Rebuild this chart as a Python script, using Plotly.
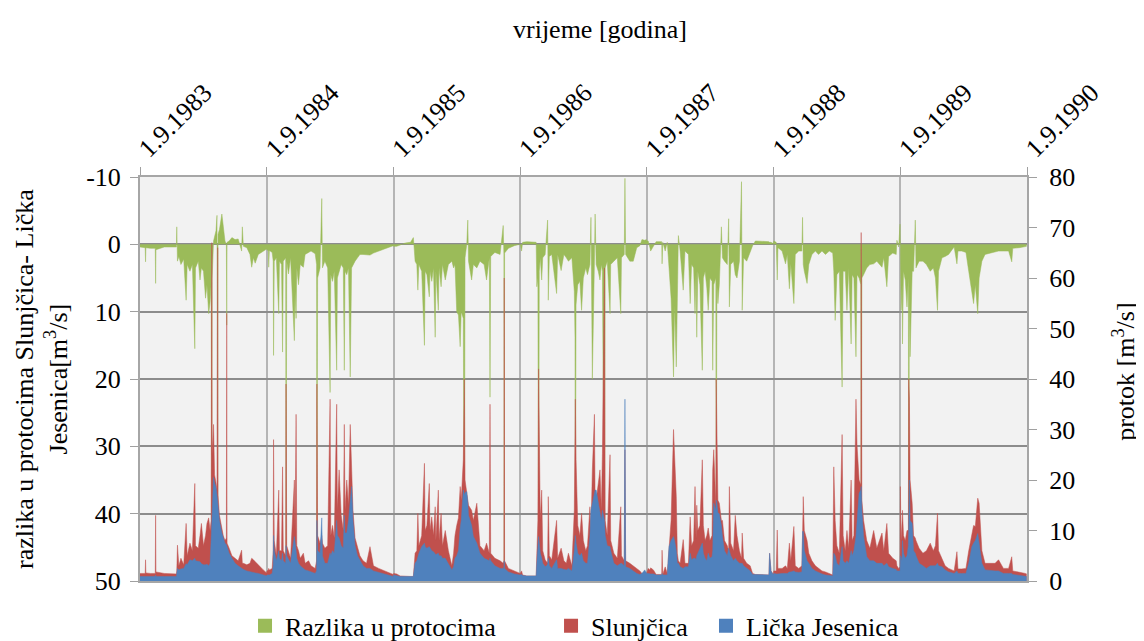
import plotly.graph_objects as go

# ---------------- data ----------------
# hydrological year 1983/84
d83 = ["1983-09-01","1983-09-16","1983-09-17","1983-09-18","1983-10-01","1983-10-15","1983-10-16","1983-10-17","1983-11-10","1983-12-15",
       "1983-12-16","1983-12-18","1983-12-22","1983-12-28","1984-01-05","1984-01-12","1984-01-15","1984-01-23","1984-01-30","1984-02-06",
       "1984-02-08","1984-02-16","1984-02-21","1984-02-25","1984-03-02","1984-03-08","1984-03-12","1984-03-17","1984-03-21","1984-03-24",
       "1984-03-26","1984-03-27","1984-03-31","1984-04-03","1984-04-07","1984-04-10","1984-04-12","1984-04-13","1984-04-17","1984-04-24",
       "1984-04-28","1984-05-03","1984-05-07","1984-05-08","1984-05-09","1984-05-15","1984-05-23","1984-06-01","1984-06-10","1984-06-20",
       "1984-06-22","1984-06-25","1984-07-05","1984-07-14","1984-07-19","1984-07-24","1984-07-29","1984-08-07","1984-08-20","1984-08-31"]
g83 = [0.4, 0.5, 2.6, 0.5, 0.6, 0.6, 5.8, 0.8, 0.4, 0.4,
       -2.6, 2.5, 1.8, 3.0, 2.2, 8.3, 3.0, 4.0, 3.0, 15.5,
       3.5, 2.5, 5.3, 3.5, 4.0, 8.0, 6.0, 10.3, 8.6, 6.0,
       52, 5.0, -0.5, -1.2, -2.0, -4.3, 52, -1.5, -2.2, -4.5,
       -3.0, -0.5, 0.0, 12, -0.3, -0.5, -1.0, -0.7, -0.8, 1.0,
       -2.6, 0.3, 0.5, 1.5, 3.4, 2.0, 2.8, 1.5, 1.0, 0.7]
r83 = [1.5, 1.5, 4.2, 1.6, 1.5, 1.5, 13.0, 1.8, 1.5, 1.4,
       2.0, 7.1, 3.0, 4.5, 3.2, 11.4, 5.0, 7.5, 6.0, 19.3,
       7.0, 6.5, 9.0, 11.4, 7.0, 9.0, 11.4, 12.5, 10.0, 12.0,
       67, 25.0, 31.0, 21.0, 19.5, 18.0, 66, 17.0, 13.0, 10.0,
       9.0, 8.0, 8.5, 53, 7.5, 6.5, 5.0, 4.5, 4.0, 6.1,
       3.5, 3.5, 3.2, 3.5, 4.5, 4.2, 3.8, 3.2, 2.3, 1.6]
b83 = [0.9, 0.9, 1.0, 0.9, 0.9, 0.9, 1.2, 0.9, 0.9, 0.9,
       1.5, 2.5, 2.2, 2.4, 2.5, 3.4, 3.2, 4.2, 4.0, 4.5,
       4.0, 3.8, 3.8, 3.4, 3.2, 3.2, 3.3, 3.0, 3.5, 8.0,
       12.0, 16.0, 20.5, 19.5, 18.5, 17.0, 15.0, 14.5, 12.0, 9.5,
       8.5, 7.5, 7.2, 7.0, 6.8, 5.5, 4.5, 3.5, 3.0, 2.5,
       2.5, 2.3, 2.0, 1.8, 1.8, 1.7, 1.6, 1.5, 1.2, 1.0]

# 1984/85
d84 = ["1984-09-01","1984-09-05","1984-09-06","1984-09-08","1984-09-16","1984-09-19","1984-09-20","1984-09-22","1984-09-28","1984-10-05",
       "1984-10-07","1984-10-13","1984-10-16","1984-10-18","1984-10-25","1984-10-26","1984-10-28","1984-11-02","1984-11-08","1984-11-19",
       "1984-11-21","1984-11-24","1984-11-26","1984-12-01","1984-12-06","1984-12-15","1984-12-20","1984-12-30","1985-01-06","1985-01-18",
       "1985-01-22","1985-01-23","1985-01-25","1985-02-01","1985-02-06","1985-02-08","1985-02-15","1985-02-23","1985-03-02","1985-03-04",
       "1985-03-09","1985-03-14","1985-03-21","1985-03-23","1985-03-28","1985-04-03","1985-04-09","1985-04-12","1985-04-14","1985-04-19",
       "1985-04-24","1985-04-29","1985-05-03","1985-05-07","1985-05-13","1985-05-20","1985-05-27","1985-06-05","1985-06-15","1985-06-25",
       "1985-07-05","1985-07-20","1985-08-05","1985-08-20","1985-08-31"]
g84 = [0.8, 1.0, 3.4, 0.9, 1.2, 2.5, 16.5, 2.5, 2.0, 10.3,
       2.5, 3.0, 16.0, 2.5, 2.0, 52, 2.5, 4.4, 2.0, 14.3,
       7.0, 11.0, 3.5, 6.0, 3.0, 3.4, 1.5, 1.2, 1.0, 1.4,
       3.0, 52, 5.0, 3.5, -6.8, 3.5, 2.5, 3.5, 22.0, 4.5,
       5.5, 4.0, 18.7, 5.0, 4.0, 3.0, 3.5, 18.7, 4.0, 4.5,
       3.5, 19.7, 3.5, 3.0, 2.5, 2.0, 1.5, 1.5, 1.5, 1.6,
       1.3, 1.0, 0.7, 0.4, 0.2]
r84 = [2.0, 2.2, 2.5, 2.2, 2.5, 6.0, 28.0, 8.0, 5.0, 18.0,
       6.0, 6.0, 22.6, 6.0, 5.0, 39, 7.0, 6.0, 4.5, 20.0,
       10.0, 33.0, 7.0, 6.0, 4.5, 5.5, 3.5, 4.0, 3.0, 2.5,
       4.0, 39, 9.0, 7.5, 9.0, 7.5, 6.5, 7.0, 36, 9.0,
       11.0, 8.5, 35, 14.0, 22.0, 13.0, 10.0, 31, 14.0, 20.0,
       15.0, 31, 22.0, 14.0, 8.5, 6.5, 5.0, 4.0, 3.5, 6.8,
       3.0, 2.5, 2.0, 1.5, 1.3]
b84 = [1.2, 1.2, 1.3, 1.2, 1.5, 3.0, 9.0, 6.0, 4.0, 6.0,
       4.5, 4.0, 5.5, 4.0, 3.5, 7.0, 5.0, 4.2, 3.5, 8.8,
       7.0, 6.0, 4.5, 3.5, 3.0, 2.5, 2.2, 2.0, 1.8, 1.5,
       2.0, 12.0, 6.0, 5.5, 12.5, 5.0, 3.5, 3.5, 5.5, 5.0,
       6.0, 5.5, 12.0, 9.0, 8.5, 7.0, 6.5, 13.0, 9.5, 9.5,
       12.0, 16.0, 18.7, 12.0, 7.0, 5.0, 4.0, 3.0, 2.5, 2.5,
       2.0, 1.7, 1.3, 1.0, 0.9]

# 1985/86
d85 = ["1985-09-01","1985-09-10","1985-09-20","1985-10-05","1985-10-20","1985-10-28","1985-10-31","1985-11-02","1985-11-07","1985-11-10",
       "1985-11-13","1985-11-21","1985-11-29","1985-12-01","1985-12-06","1985-12-13","1985-12-15","1985-12-20","1985-12-25","1985-12-30",
       "1986-01-01","1986-01-08","1986-01-10","1986-01-16","1986-01-20","1986-01-28","1986-02-06","1986-02-16","1986-02-21","1986-02-25",
       "1986-03-02","1986-03-07","1986-03-12","1986-03-15","1986-03-21","1986-03-24","1986-03-26","1986-03-31","1986-04-03","1986-04-05",
       "1986-04-14","1986-04-19","1986-04-29","1986-05-08","1986-05-20","1986-05-27","1986-06-04","1986-06-06","1986-06-08","1986-06-20",
       "1986-07-05","1986-07-14","1986-07-16","1986-07-17","1986-07-18","1986-07-29","1986-08-15","1986-08-31"]
g85 = [0.3, 0.3, 0.1, -0.2, -0.3, -1.0, 1.0, 2.5, 3.0, 6.8,
       3.0, 4.0, 15.0, 4.0, 4.5, 7.8, 4.0, 5.5, 3.5, 13.8,
       4.0, 9.8, 3.5, 6.3, 3.0, 5.3, 3.0, 2.5, 3.5, 3.0,
       10.0, 10.5, 15.2, 10.0, 11.0, 52, 2.0, 0.0, -3.6, 2.5,
       5.3, 3.0, 3.5, 2.5, 3.0, 5.3, 2.0, 22.7, 1.8, 1.2,
       1.5, -2.8, 1.5, 52, 1.3, 0.6, 0.2, 0.0]
r85 = [1.5, 1.4, 1.0, 0.9, 0.9, 0.9, 4.0, 5.5, 6.0, 13.4,
       7.0, 9.0, 23.3, 10.0, 11.0, 19.3, 10.0, 12.7, 9.0, 14.7,
       8.0, 18.0, 8.0, 13.4, 7.0, 10.0, 6.0, 3.0, 5.5, 9.0,
       11.0, 12.5, 18.7, 16.0, 24.0, 40, 20.0, 18.0, 16.0, 15.0,
       14.0, 12.0, 15.4, 7.0, 6.0, 7.5, 5.5, 35, 5.5, 4.5,
       4.0, 3.5, 4.0, 60, 4.0, 2.5, 2.0, 1.5]
b85 = [1.2, 1.1, 0.9, 0.9, 0.9, 0.9, 2.5, 3.5, 4.0, 4.8,
       5.5, 6.8, 7.5, 6.8, 6.5, 6.8, 6.5, 6.0, 5.8, 5.5,
       5.2, 5.5, 5.0, 5.0, 4.5, 4.5, 3.5, 2.2, 2.8, 4.5,
       5.0, 6.0, 10.5, 12.0, 18.0, 17.0, 17.5, 17.7, 15.5, 13.0,
       11.0, 8.8, 7.5, 5.5, 4.5, 4.2, 4.0, 4.5, 4.0, 3.0,
       2.5, 2.5, 2.6, 4.0, 2.5, 1.8, 1.4, 1.2]

# 1986/87
d86 = ["1986-09-01","1986-09-05","1986-09-08","1986-09-20","1986-10-10","1986-10-17","1986-10-19","1986-10-22","1986-10-24","1986-10-26",
       "1986-10-29","1986-11-02","1986-11-05","1986-11-12","1986-11-19","1986-11-21","1986-11-24","1986-12-01","1986-12-15","1986-12-18",
       "1986-12-28","1987-01-05","1987-01-12","1987-01-18","1987-01-28","1987-02-04","1987-02-06","1987-02-07","1987-02-09","1987-02-14",
       "1987-02-20","1987-02-25","1987-03-02","1987-03-09","1987-03-14","1987-03-21","1987-03-24","1987-03-28","1987-04-03","1987-04-05",
       "1987-04-08","1987-04-14","1987-04-19","1987-04-23","1987-04-26","1987-05-02","1987-05-04","1987-05-10","1987-05-18","1987-05-20",
       "1987-05-29","1987-06-08","1987-06-18","1987-06-20","1987-06-28","1987-06-30","1987-07-02","1987-07-14","1987-07-24","1987-08-03",
       "1987-08-12","1987-08-18","1987-08-26","1987-08-31"]
g86 = [0.0, 1.0, -0.3, -0.4, -0.4, -0.3, 6.3, 5.0, 52, 4.0,
       2.0, 5.3, 2.0, 1.5, -3.6, 8.3, 1.8, 1.5, 7.3, 1.5,
       3.9, 1.5, 2.0, 2.5, 2.0, 7.0, 13.8, 52, 9.0, 6.0,
       5.5, 9.8, 5.0, 3.5, 4.5, 3.0, -4.0, 20.0, 2.5, -4.5,
       3.0, 4.0, 5.3, 3.0, 4.0, 52, 3.5, 2.5, 10.3, 3.0,
       2.5, 2.0, 10.3, 2.0, 1.5, -9.8, 1.5, 2.5, 2.5, 0.5,
       0.2, -0.7, -0.6, -0.7]
r86 = [1.5, 2.0, 1.2, 1.0, 1.0, 1.0, 5.5, 12.0, 42, 25.0,
       12.0, 18.0, 6.0, 4.2, 3.5, 16.7, 5.0, 4.2, 12.0, 4.5,
       6.5, 4.0, 3.5, 5.5, 3.0, 14.0, 26.0, 36, 24.0, 11.0,
       9.0, 13.4, 8.0, 6.0, 7.0, 14.7, 10.0, 22.0, 33.0, 16.0,
       16.0, 19.3, 22.0, 14.0, 25.3, 62, 12.0, 9.0, 25.0, 8.0,
       5.5, 4.5, 14.7, 5.0, 4.0, 26.0, 4.0, 3.5, 3.0, 2.5,
       2.0, 1.5, 1.6, 1.5]
b86 = [1.2, 1.3, 1.1, 1.0, 1.0, 1.0, 3.5, 8.0, 8.8, 7.5,
       5.5, 4.5, 3.5, 2.8, 3.2, 4.5, 3.0, 2.5, 4.2, 2.5,
       2.5, 2.3, 2.2, 2.5, 2.0, 6.0, 8.8, 9.0, 7.5, 5.5,
       5.0, 5.5, 4.0, 3.5, 3.5, 8.8, 14.0, 15.4, 18.0, 18.0,
       18.0, 15.4, 13.0, 12.0, 14.0, 12.0, 9.0, 7.0, 6.8, 6.0,
       3.5, 3.0, 3.5, 3.5, 3.0, 36.0, 2.8, 2.5, 2.0, 1.5,
       1.3, 1.5, 2.2, 1.5]

# 1987/88
d87 = ["1987-09-01","1987-09-05","1987-09-10","1987-09-12","1987-09-20","1987-09-28","1987-10-14","1987-10-15","1987-10-17","1987-10-24",
       "1987-10-30","1987-11-04","1987-11-10","1987-11-17","1987-11-20","1987-11-25","1987-11-28","1987-12-01","1987-12-06","1987-12-15",
       "1987-12-20","1987-12-30","1988-01-04","1988-01-08","1988-01-14","1988-01-18","1988-01-21","1988-01-23","1988-01-26","1988-02-01",
       "1988-02-08","1988-02-11","1988-02-16","1988-02-21","1988-02-25","1988-03-01","1988-03-07","1988-03-09","1988-03-12","1988-03-18",
       "1988-03-19","1988-03-21","1988-03-24","1988-03-28","1988-04-03","1988-04-06","1988-04-12","1988-04-20","1988-04-24","1988-04-26",
       "1988-04-30","1988-05-08","1988-05-13","1988-05-18","1988-05-25","1988-05-31","1988-06-02","1988-06-06","1988-06-15","1988-06-25",
       "1988-07-02","1988-07-10","1988-08-01","1988-08-18","1988-08-20","1988-08-24","1988-08-31"]
g87 = [-0.5, -0.5, 0.5, 1.0, 0.3, -0.4, -0.4, 2.9, -0.3, 1.0,
       -0.3, 4.0, 8.0, 19.7, 9.0, 18.2, 3.0, -1.3, 1.0, 6.8,
       1.0, 1.5, 8.8, 3.0, 3.5, 10.3, 4.0, 13.8, 4.0, 6.0,
       18.7, 5.0, 4.0, 6.5, 9.8, 5.0, 5.5, 18.7, 6.0, 5.0,
       52, 6.0, 8.8, 6.0, -2.6, 2.0, 2.5, 3.0, -3.8, 9.3,
       3.0, 2.5, 4.5, 5.0, 2.5, -9.3, 9.8, 2.0, 2.5, 1.0,
       0.2, -0.5, -0.5, -0.4, -0.3, -0.3, -0.1]
r87 = [1.8, 2.5, 2.2, 2.6, 2.2, 1.3, 1.3, 6.1, 1.3, 2.8,
       1.5, 5.5, 12.0, 30.0, 24.0, 16.7, 5.5, 4.0, 3.5, 8.2,
       3.5, 3.5, 12.7, 7.0, 8.0, 18.7, 8.5, 15.0, 10.0, 11.0,
       24.0, 11.0, 8.0, 9.0, 10.5, 8.0, 9.0, 22.0, 26.0, 15.0,
       40, 30.6, 16.0, 15.4, 12.0, 12.0, 8.0, 7.0, 6.0, 18.7,
       7.5, 6.0, 13.0, 9.0, 6.0, 4.5, 9.5, 4.5, 3.5, 3.0,
       1.5, 1.3, 1.2, 1.2, 5.5, 2.0, 1.3]
b87 = [1.5, 1.5, 1.4, 1.4, 1.4, 1.2, 1.2, 1.5, 1.2, 1.2,
       1.2, 6.8, 8.0, 8.8, 8.0, 6.0, 3.5, 3.5, 2.8, 2.5,
       2.8, 2.8, 5.5, 4.2, 4.5, 4.5, 4.2, 5.0, 5.5, 6.5,
       7.5, 5.5, 4.5, 4.0, 5.5, 4.5, 4.8, 6.0, 15.4, 14.0,
       16.0, 15.5, 13.5, 13.3, 11.0, 8.8, 6.0, 5.0, 6.5, 6.0,
       5.0, 4.0, 4.5, 4.0, 3.5, 3.5, 3.5, 3.0, 2.5, 2.0,
       1.3, 1.3, 1.2, 1.2, 5.5, 2.0, 1.2]

# 1988/89
d88 = ["1988-09-01","1988-09-08","1988-09-11","1988-09-13","1988-09-25","1988-10-05","1988-10-10","1988-10-16","1988-10-20","1988-10-29",
       "1988-11-02","1988-11-12","1988-11-21","1988-11-23","1988-11-25","1988-11-28","1988-12-03","1988-12-06","1988-12-11","1988-12-20",
       "1988-12-30","1989-01-08","1989-01-18","1989-01-28","1989-02-08","1989-02-18","1989-02-21","1989-02-25","1989-03-02","1989-03-09",
       "1989-03-17","1989-03-20","1989-03-26","1989-03-31","1989-04-05","1989-04-12","1989-04-15","1989-04-20","1989-04-26","1989-04-29",
       "1989-05-05","1989-05-10","1989-05-11","1989-05-13","1989-05-18","1989-05-27","1989-06-05","1989-06-16","1989-06-25","1989-07-10",
       "1989-07-15","1989-07-24","1989-07-29","1989-08-10","1989-08-20","1989-08-22","1989-08-27","1989-08-31"]
g88 = [-0.5, -0.3, 5.3, 0.5, 1.0, 2.9, 1.5, 6.6, 2.9, 8.8,
       1.5, 1.0, 1.0, -4.0, 3.0, 4.0, 5.0, 5.8, 3.0, 1.5,
       1.0, 1.5, 1.0, 1.5, 1.0, 1.3, 4.0, 11.3, 4.5, 4.0,
       21.2, 4.0, 4.0, 9.8, 3.5, 14.8, 4.5, 5.0, 16.7, 4.5,
       5.0, 6.0, 52, 5.0, 4.5, 3.5, 3.0, 2.9, 2.5, 3.4,
       2.0, 6.3, 1.8, 1.3, 1.5, -0.6, 0.4, -3.0]
r88 = [2.0, 2.0, 10.1, 2.5, 2.5, 3.0, 2.5, 7.5, 4.0, 10.8,
       3.0, 2.5, 3.0, 9.0, 16.7, 10.0, 9.0, 8.0, 5.5, 4.0,
       3.0, 2.5, 2.0, 1.8, 1.5, 1.2, 22.6, 12.0, 7.0, 5.5,
       29.0, 9.0, 6.0, 10.0, 6.5, 20.0, 8.0, 9.0, 36.0, 27.0,
       20.0, 19.0, 69, 16.0, 12.0, 8.0, 6.5, 10.0, 6.5, 9.5,
       6.0, 11.4, 5.5, 4.5, 4.0, 3.0, 2.5, 2.8]
b88 = [1.5, 1.4, 1.5, 1.4, 1.5, 1.5, 1.5, 1.8, 1.8, 2.0,
       1.8, 1.7, 1.8, 9.8, 9.8, 6.0, 5.0, 4.0, 3.5, 2.5,
       2.0, 1.7, 1.4, 1.2, 1.1, 1.0, 5.5, 5.0, 3.5, 3.0,
       6.8, 4.0, 3.5, 4.0, 3.5, 6.0, 5.0, 6.0, 8.8, 12.0,
       17.4, 18.0, 18.7, 14.0, 8.8, 4.8, 4.0, 4.0, 3.5, 3.5,
       3.0, 3.5, 2.8, 2.5, 2.3, 2.0, 2.0, 2.0]

# 1989/90
d89 = ["1989-09-01","1989-09-03","1989-09-06","1989-09-07","1989-09-10","1989-09-15","1989-09-20","1989-09-24","1989-09-25","1989-09-27",
       "1989-09-29","1989-10-05","1989-10-09","1989-10-14","1989-10-16","1989-10-25","1989-11-05","1989-11-15","1989-11-26","1989-12-05",
       "1989-12-11","1989-12-17","1989-12-20","1989-12-30","1990-01-08","1990-01-18","1990-01-28","1990-02-03","1990-02-11","1990-02-14",
       "1990-02-25","1990-03-09","1990-03-17","1990-03-26","1990-03-31","1990-04-05","1990-04-12","1990-04-16","1990-04-24","1990-05-03",
       "1990-05-20","1990-06-01","1990-06-11","1990-06-25","1990-07-10","1990-07-19","1990-07-22","1990-08-10","1990-08-27","1990-08-31"]
g89 = [0.5, 9.8, 6.0, 14.8, 4.0, 5.3, 9.3, 5.0, 52, 6.0,
       16.7, 4.0, 4.0, -3.6, 3.5, 2.5, 2.5, 3.0, 4.0, 3.5,
       5.0, 9.8, 4.0, 2.0, 1.8, 1.5, 0.8, 0.4, 2.9, 1.0,
       1.0, 1.2, 4.0, 7.0, 8.8, 6.0, 10.3, 5.0, 2.5, 1.5,
       1.3, 1.2, 1.0, 1.0, 1.0, 2.6, 0.6, 0.5, 0.4, 0.3]
r89 = [18.7, 8.0, 12.0, 14.0, 9.0, 8.0, 10.0, 10.0, 40, 36.0,
       20.0, 15.4, 9.0, 8.5, 8.0, 6.5, 5.5, 6.0, 7.5, 6.0,
       7.0, 13.4, 6.0, 4.5, 3.0, 2.5, 2.2, 2.0, 5.8, 2.4,
       2.4, 2.5, 6.0, 8.8, 11.0, 10.8, 16.4, 15.4, 6.0, 3.5,
       3.5, 3.5, 4.2, 2.5, 2.5, 4.8, 2.0, 1.8, 1.5, 1.4]
b89 = [5.0, 4.0, 5.0, 8.0, 5.5, 4.5, 5.0, 7.0, 10.0, 20.0,
       12.0, 11.4, 6.0, 5.5, 5.0, 3.5, 3.0, 2.5, 3.0, 3.0,
       3.0, 3.5, 3.0, 2.8, 2.2, 1.8, 1.6, 1.5, 2.0, 1.5,
       1.5, 1.5, 3.5, 6.8, 7.5, 8.0, 9.4, 7.0, 3.5, 2.2,
       2.0, 2.0, 2.0, 1.5, 1.5, 1.5, 1.3, 1.1, 1.0, 0.9]

dates = d83 + d84 + d85 + d86 + d87 + d88 + d89
razlika = g83 + g84 + g85 + g86 + g87 + g88 + g89
slunjcica = r83 + r84 + r85 + r86 + r87 + r88 + r89
licka_jesenica = b83 + b84 + b85 + b86 + b87 + b88 + b89
assert len(dates) == len(razlika) == len(slunjcica) == len(licka_jesenica), (
    len(dates), len(razlika), len(slunjcica), len(licka_jesenica))

year_ticks = ["1983-09-01", "1984-09-01", "1985-09-01", "1986-09-01",
              "1987-09-01", "1988-09-01", "1989-09-01", "1990-09-01"]
year_labels = ["1.9.1983", "1.9.1984", "1.9.1985", "1.9.1986",
               "1.9.1987", "1.9.1988", "1.9.1989", "1.9.1990"]
left_ticks = [-10, 0, 10, 20, 30, 40, 50]
left_labels = ["-10", "0", "10", "20", "30", "40", "50"]
right_ticks = [0, 10, 20, 30, 40, 50, 60, 70, 80]

GREEN = "#9bbb59"
RED = "#c0504d"
BLUE = "#4f81bd"
FONT = "Liberation Serif"
FS = 26

fig = go.Figure()
fig.add_trace(go.Scatter(x=dates, y=razlika, name="Razlika u protocima", mode="lines",
                         line=dict(color=GREEN, width=0.5), fill="tozeroy", fillcolor=GREEN,
                         yaxis="y", showlegend=False))
fig.add_trace(go.Scatter(x=dates, y=slunjcica, name="Slunjčica", mode="lines",
                         line=dict(color=RED, width=0.5), fill="tozeroy", fillcolor=RED,
                         yaxis="y2", showlegend=False))
fig.add_trace(go.Scatter(x=dates, y=licka_jesenica, name="Lička Jesenica", mode="lines",
                         line=dict(color=BLUE, width=0.5), fill="tozeroy", fillcolor=BLUE,
                         yaxis="y2", showlegend=False))
# legend entries (square markers as in the reference), one legend box each
for nm, col, lg in [("Razlika u protocima", GREEN, "legend"), ("Slunjčica", RED, "legend2"),
                    ("Lička Jesenica", BLUE, "legend3")]:
    fig.add_trace(go.Scatter(x=[None], y=[None], mode="markers", name=nm, legend=lg,
                             marker=dict(symbol="square", size=14, color=col), yaxis="y2"))

# the page body has an 8px margin, so the figure is drawn 8px in from the window corner
W, H = 1136, 633
legend_common = dict(orientation="h", xanchor="left", y=-0.111, yanchor="middle",
                     font=dict(family=FONT, size=FS), bgcolor="rgba(0,0,0,0)")

fig.update_layout(
    width=W, height=H,
    margin=dict(l=132, r=117, t=169, b=60, autoexpand=False),
    paper_bgcolor="white", plot_bgcolor="#f2f2f2",
    font=dict(family=FONT, size=FS, color="black"),
    showlegend=True,
    legend=dict(x=0.1184, **legend_common),
    legend2=dict(x=0.4634, **legend_common),
    legend3=dict(x=0.6381, **legend_common),
    xaxis=dict(type="date", side="top", range=["1983-09-01", "1990-09-01"],
               tickmode="array", tickvals=year_ticks, ticktext=year_labels, tickangle=-45,
               showgrid=True, gridcolor="#b5b5b5", gridwidth=2,
               ticks="outside", ticklen=8, tickcolor="#a0a0a0", tickwidth=1,
               ticklabelstandoff=-6,
               showline=True, linecolor="#a6a6a6", linewidth=2, mirror=True,
               zeroline=False, tickfont=dict(family=FONT, size=FS)),
    yaxis=dict(range=[50, -10], tickmode="array", tickvals=left_ticks, ticktext=left_labels,
               showgrid=True, gridcolor="#8c8c8c", gridwidth=2, zeroline=False,
               ticks="outside", ticklen=8, tickcolor="#a0a0a0", ticklabelstandoff=4,
               showline=True, linecolor="#a6a6a6", linewidth=2, mirror=True,
               tickfont=dict(family=FONT, size=FS)),
    yaxis2=dict(range=[0, 80], tickmode="array", tickvals=right_ticks, overlaying="y",
                side="right", showgrid=False, zeroline=False,
                ticks="outside", ticklen=8, tickcolor="#a0a0a0", ticklabelstandoff=7,
                showline=True, linecolor="#a6a6a6", linewidth=2,
                tickfont=dict(family=FONT, size=FS)),
    annotations=[
        dict(text="vrijeme [godina]", x=0.5186, y=1.364, xref="paper", yref="paper",
             xanchor="center", yanchor="middle", showarrow=False, font=dict(family=FONT, size=FS)),
        dict(text="razlika u protocima Slunjčica- Lička<br>Jesenica[m<sup>3</sup>/s]",
             x=-0.1116, y=0.5, xref="paper", yref="paper", textangle=-90,
             xanchor="center", yanchor="middle", showarrow=False, font=dict(family=FONT, size=FS)),
        dict(text="protok [m<sup>3</sup>/s]", x=1.109, y=0.517, xref="paper", yref="paper",
             textangle=-90, xanchor="center", yanchor="middle", showarrow=False,
             font=dict(family=FONT, size=FS)),
    ],
)

fig.write_html("out.html")
